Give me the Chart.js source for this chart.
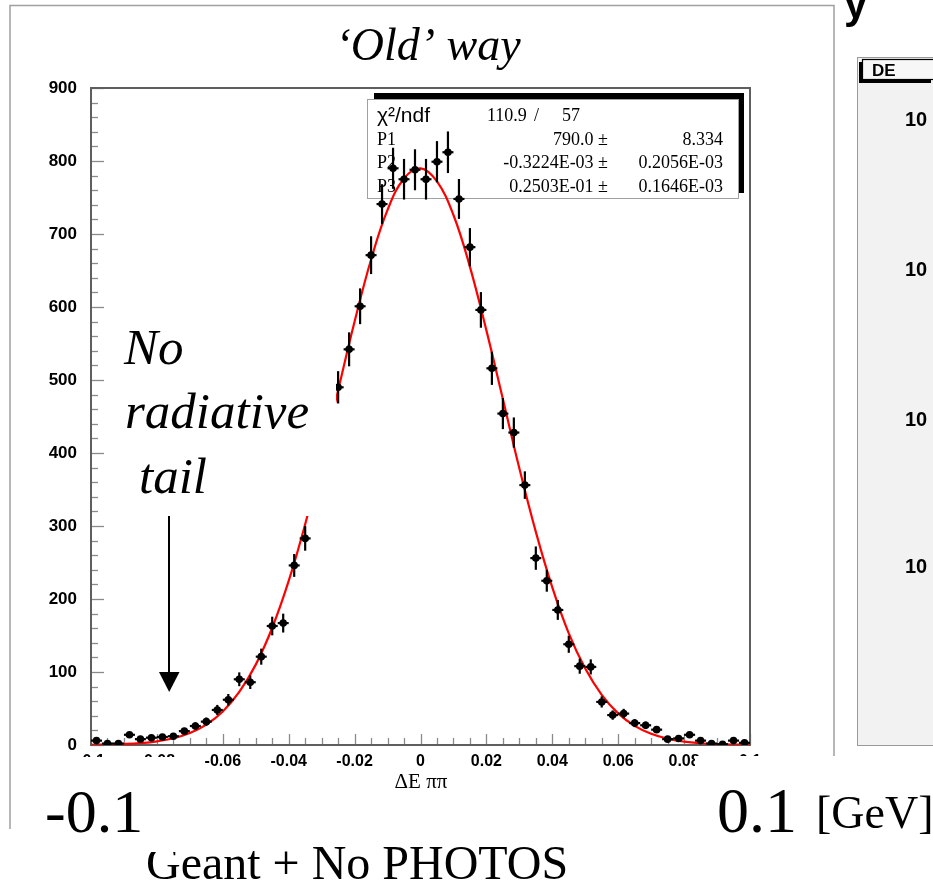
<!DOCTYPE html>
<html><head><meta charset="utf-8">
<script src="https://cdn.jsdelivr.net/npm/chart.js@4.4.1/dist/chart.umd.min.js"></script>
<style>html,body{margin:0;padding:0;background:#fff;overflow:hidden}#wrap{width:933px;height:882px;position:relative}</style>
</head><body><div id="wrap"><canvas id="c" width="933" height="882"></canvas></div>
<script>
// ---- data ----
const binCenters = [-0.09833,-0.09500,-0.09167,-0.08833,-0.08500,-0.08167,-0.07833,-0.07500,-0.07167,-0.06833,
 -0.06500,-0.06167,-0.05833,-0.05500,-0.05167,-0.04833,-0.04500,-0.04167,-0.03833,-0.03500,
 -0.03167,-0.02833,-0.02500,-0.02167,-0.01833,-0.01500,-0.01167,-0.00833,-0.00500,-0.00167,
 0.00167,0.00500,0.00833,0.01167,0.01500,0.01833,0.02167,0.02500,0.02833,0.03167,
 0.03500,0.03833,0.04167,0.04500,0.04833,0.05167,0.05500,0.05833,0.06167,0.06500,
 0.06833,0.07167,0.07500,0.07833,0.08167,0.08500,0.08833,0.09167,0.09500,0.09833];
const counts = [6,2,2,14,8,10,11,12,19,26,
 32,48,62,90,86,121,163,167,246,283,
 355,422,490,542,601,671,741,790,775,788,
 775,799,812,748,682,596,516,454,428,356,
 256,225,185,138,108,107,59,41,43,30,
 27,21,8,9,14,6,2,1,6,3];
const binWidth = 0.003333;
const fitX = [-0.100,-0.095,-0.090,-0.085,-0.080,-0.075,-0.070,-0.065,-0.060,-0.055,-0.050,-0.045,-0.040,-0.035,-0.030,-0.025,-0.020,-0.015,-0.010,-0.005,
 0.000,0.005,0.010,0.015,0.020,0.025,0.030,0.035,0.040,0.045,0.050,0.055,0.060,0.065,0.070,0.075,0.080,0.085,0.090,0.095,0.100];
const fitY = [0.3,0.6,1.3,2.6,5.0,9.2,16.4,28.0,46.0,72.7,110.1,160.6,224.8,302.5,391,486,580,665,733,776,
 790,772,726,655,568,474,379,292,216,153,104.7,68.7,43.3,26.2,15.3,8.5,4.6,2.4,1.2,0.6,0.3];
const xTickValues = [-0.1,-0.08,-0.06,-0.04,-0.02,0,0.02,0.04,0.06,0.08,0.1];
const xTickLabels = ["-0.1","-0.08","-0.06","-0.04","-0.02","0","0.02","0.04","0.06","0.08","0.1"];
const yTickValues = [0,100,200,300,400,500,600,700,800,900];
const yTickLabels = ["0","100","200","300","400","500","600","700","800","900"];
const statNames = ["P1","P2","P3"];
const statValues = ["790.0 \u00b1","-0.3224E-03 \u00b1","0.2503E-01 \u00b1"];
const statErrors = ["8.334","0.2056E-03","0.1646E-03"];
const chiText = ["110.9","/","57"];
const sideLabels = ["10","10","10","10"];

const SERIF = '"Liberation Serif", "Times New Roman", serif';
const SANS = '"Liberation Sans", Arial, sans-serif';

function line(ctx,x1,y1,x2,y2){ctx.beginPath();ctx.moveTo(x1,y1);ctx.lineTo(x2,y2);ctx.stroke();}

const deco = {
  id:'deco',
  beforeDraw(chart){
    const ctx = chart.ctx;
    ctx.save();
    ctx.fillStyle='#fff'; ctx.fillRect(0,0,933,882);
    // slide frame
    ctx.strokeStyle='#a0a0a0'; ctx.lineWidth=1.5;
    ctx.beginPath(); ctx.moveTo(10,829); ctx.lineTo(10,5.5); ctx.lineTo(834,5.5); ctx.lineTo(834,757); ctx.stroke();
    // right neighbouring panel
    ctx.fillStyle='#f2f2f2'; ctx.fillRect(857,57,80,688);
    ctx.strokeStyle='#9a9a9a'; ctx.lineWidth=1; ctx.strokeRect(857.5,57.5,100,688);
    ctx.fillStyle='#000'; ctx.fillRect(859,62,72,21);
    ctx.fillStyle='#f7f7f7'; ctx.fillRect(862,59,72,20);
    ctx.strokeStyle='#000'; ctx.lineWidth=1.2; ctx.strokeRect(862.5,59.5,72,20);
    ctx.fillStyle='#000'; ctx.font='bold 17px '+SANS; ctx.textBaseline='alphabetic'; ctx.textAlign='left';
    ctx.fillText('DE',872,76);
    ctx.font='bold 20px '+SANS;
    const sy=[126,276,426,573];
    sideLabels.forEach((t,i)=>ctx.fillText(t,905,sy[i]));
    // glyph cut at top right
    ctx.font='bold 42px '+SANS; ctx.fillText('y',844,18);
    // title
    ctx.font='italic 46px '+SERIF; ctx.textAlign='center';
    ctx.fillText('\u2018Old\u2019 way',428,60);
    ctx.restore();
  },
  beforeDatasetsDraw(chart){
    const {ctx, chartArea:a, scales:{x,y}} = chart;
    ctx.save();
    // ticks (inside)
    ctx.strokeStyle='#8a8a8a'; ctx.lineWidth=1.3;
    for(let v=0; v<=900; v+=20){
      const py=Math.round(y.getPixelForValue(v))+0.5;
      line(ctx,a.left,py,a.left+(v%100===0?13:7),py);
    }
    for(let k=-20;k<=20;k++){
      const px=Math.round(x.getPixelForValue(k*0.005))+0.5;
      line(ctx,px,a.bottom,px,a.bottom-(k%4===0?11:7));
    }
    // frame
    ctx.strokeStyle='#5e5e5e'; ctx.lineWidth=2;
    ctx.strokeRect(a.left,a.top,a.right-a.left,a.bottom-a.top);
    // stats box (under the data)
    ctx.fillStyle='#000'; ctx.fillRect(374,93,370,100);
    ctx.fillStyle='#fff'; ctx.fillRect(367,99,371,99);
    ctx.strokeStyle='#a0a0a0'; ctx.lineWidth=1; ctx.strokeRect(367.5,99.5,371,99);
    ctx.fillStyle='#000'; ctx.textBaseline='alphabetic';
    ctx.textAlign='left'; ctx.font='21px '+SANS; ctx.fillText('\u03c7\u00b2/ndf',377,122);
    ctx.font='18px '+SERIF;
    ctx.fillText(chiText[0],487,121); ctx.fillText(chiText[1],534,121); ctx.fillText(chiText[2],562,121);
    const rb=[145,168,192];
    statNames.forEach((n,i)=>{
      ctx.textAlign='left'; ctx.fillText(n,377,rb[i]);
      ctx.textAlign='right'; ctx.fillText(statValues[i],608,rb[i]);
      ctx.fillText(statErrors[i],723,rb[i]);
    });
    ctx.restore();
  },
  afterDatasetsDraw(chart){
    const {ctx, chartArea:a, scales:{x,y}} = chart;
    ctx.save();
    ctx.beginPath(); ctx.rect(a.left,a.top,a.right-a.left,a.bottom-a.top); ctx.clip();
    ctx.strokeStyle='#000'; ctx.lineWidth=2.2;
    binCenters.forEach((c,i)=>{
      const n=counts[i], e=Math.sqrt(n);
      const px=x.getPixelForValue(c), py=y.getPixelForValue(n);
      line(ctx,px,y.getPixelForValue(Math.max(0,n-e)),px,y.getPixelForValue(n+e));
      line(ctx,x.getPixelForValue(c-binWidth/2),py,x.getPixelForValue(c+binWidth/2),py);
    });
    ctx.restore();
  },
  afterDraw(chart){
    const ctx=chart.ctx;
    ctx.save();
    ctx.fillStyle='#000'; ctx.textBaseline='alphabetic'; ctx.textAlign='center';
    ctx.font='21px '+SERIF; ctx.fillText('\u0394E \u03c0\u03c0',421,788);
    // annotation box
    ctx.fillStyle='#fff'; ctx.fillRect(104,318,232,198);
    ctx.fillStyle='#000'; ctx.textAlign='left'; ctx.font='italic 51px '+SERIF;
    ctx.fillText('No',124,364); ctx.fillText('radiative',125,428); ctx.fillText('tail',139,493);
    // arrow
    ctx.strokeStyle='#000'; ctx.lineWidth=2; line(ctx,169,516,169,674);
    ctx.beginPath(); ctx.moveTo(159,672); ctx.lineTo(179.5,672); ctx.lineTo(169.2,692); ctx.closePath(); ctx.fill();
    // bottom texts
    ctx.font='48px '+SERIF; ctx.fillText('Geant + No PHOTOS',146,879);
    ctx.fillStyle='#fff'; ctx.fillRect(14,757,178,95); ctx.fillRect(695,756,238,95);
    ctx.fillStyle='#000';
    ctx.font='62px '+SERIF; ctx.fillText('-0.1',45,832);
    ctx.font='64px '+SERIF; ctx.fillText('0.1',717,832);
    ctx.font='46px '+SERIF; ctx.fillText('[GeV]',816,828);
    ctx.restore();
  }
};

new Chart(document.getElementById('c'),{
  type:'scatter',
  data:{datasets:[
    {label:'fit',type:'line',data:fitX.map((v,i)=>({x:v,y:fitY[i]})),borderColor:'#ff0000',borderWidth:2.2,
     pointRadius:0,tension:0.4,fill:false,order:2},
    {label:'data',data:binCenters.map((v,i)=>({x:v,y:counts[i]})),pointRadius:3.8,pointBackgroundColor:'#000',
     pointBorderColor:'#000',pointBorderWidth:0,order:1}
  ]},
  options:{
    responsive:false, animation:false, devicePixelRatio:1,
    layout:{padding:{left:41,right:183,top:88,bottom:107}},
    plugins:{legend:{display:false},tooltip:{enabled:false}},
    scales:{
      x:{type:'linear',min:-0.1,max:0.1,
        afterBuildTicks:s=>{s.ticks=xTickValues.map(v=>({value:v}));},
        afterFit:s=>{s.height=30;},
        grid:{display:false,drawTicks:false},border:{display:false},
        ticks:{autoSkip:false,maxRotation:0,padding:7,color:'#000',font:{family:'"Liberation Sans"',weight:'bold',size:16},
          callback:(v,i)=>xTickLabels[i]}},
      y:{type:'linear',min:0,max:900,
        afterBuildTicks:s=>{s.ticks=yTickValues.map(v=>({value:v}));},
        afterFit:s=>{s.width=50;},
        grid:{display:false,drawTicks:false},border:{display:false},
        ticks:{padding:14,color:'#000',font:{family:'"Liberation Sans"',weight:'bold',size:17},
          callback:(v,i)=>yTickLabels[i]}}
    }
  },
  plugins:[deco]
});
</script></body></html>
